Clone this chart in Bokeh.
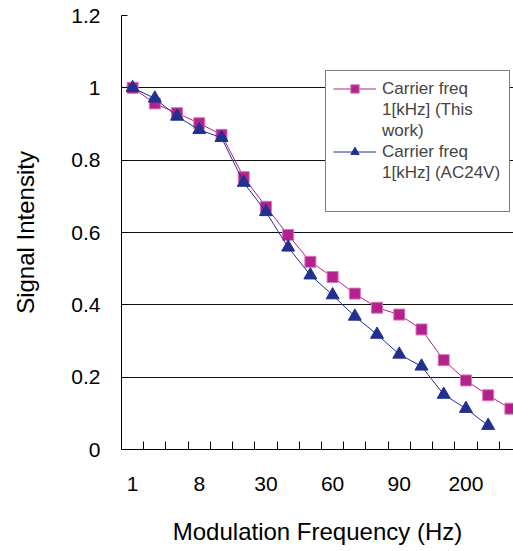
from bokeh.plotting import figure
from bokeh.models import FixedTicker, Legend, LegendItem, Range1d
from bokeh.embed import file_html
from bokeh.resources import INLINE

# ---- data ----
categories = [1, 2, 4, 8, 10, 20, 30, 40, 50, 60, 70, 80, 90, 100, 150, 200, 250, 300]
label_every = 3
this_work = [1.0, 0.957, 0.930, 0.902, 0.870, 0.753, 0.671, 0.593, 0.519, 0.477,
             0.431, 0.392, 0.373, 0.332, 0.247, 0.191, 0.150, 0.113]
ac24v = [1.0, 0.971, 0.921, 0.884, 0.862, 0.738, 0.657, 0.559, 0.482, 0.427,
         0.368, 0.318, 0.263, 0.230, 0.152, 0.113, 0.066]
y_ticks = [0, 0.2, 0.4, 0.6, 0.8, 1.0, 1.2]
y_tick_labels = ["0", "0.2", "0.4", "0.6", "0.8", "1", "1.2"]
series_a_lines = ["Carrier freq", "1[kHz] (This", "work)"]
series_b_lines = ["Carrier freq", "1[kHz] (AC24V)"]

MAGENTA = "#B4208C"
BLUE = "#22308F"
FONT = "Liberation Sans"

xs_a = list(range(len(this_work)))
xs_b = list(range(len(ac24v)))

p = figure(width=513, height=551, output_backend="svg", toolbar_location=None,
           x_range=Range1d(-0.5, 17.14), y_range=Range1d(0, 1.2),
           min_border_left=121, min_border_right=0, min_border_top=15, min_border_bottom=102)
p.outline_line_color = None
p.background_fill_color = "white"
p.border_fill_color = "white"

# grid
p.xgrid.visible = False
p.ygrid.ticker = FixedTicker(ticks=y_ticks[1:])
p.ygrid.grid_line_color = "#111111"
p.ygrid.grid_line_width = 1

# x axis
major = list(range(0, len(categories), label_every))
minor = [i + 0.5 for i in range(len(categories) - 1)]
p.xaxis.ticker = FixedTicker(ticks=major, minor_ticks=minor)
p.xaxis.major_label_overrides = {i: str(categories[i]) for i in major}
p.xaxis.minor_tick_in = 8
p.xaxis.minor_tick_out = 0
p.xaxis.minor_tick_line_color = "black"
p.xaxis.major_tick_out = 0
p.xaxis.major_tick_in = 0
p.xaxis.major_label_standoff = 27
p.xaxis.axis_label = "Modulation Frequency (Hz)"
p.xaxis.axis_label_standoff = 24

# y axis
p.yaxis.ticker = FixedTicker(ticks=y_ticks)
p.yaxis.major_label_overrides = {t: l for t, l in zip(y_ticks, y_tick_labels)}
p.yaxis.minor_tick_line_color = None
p.yaxis.major_tick_in = 6
p.yaxis.major_tick_out = 0
p.yaxis.major_label_standoff = 21
p.yaxis.axis_label = "Signal Intensity"
p.yaxis.axis_label_standoff = 29

for ax in (p.xaxis, p.yaxis):
    ax.axis_line_color = "black"
    ax.major_label_text_font = FONT
    ax.major_label_text_font_size = "21px"
    ax.major_label_text_color = "black"
    ax.axis_label_text_font = FONT
    ax.axis_label_text_font_size = "24px"
    ax.axis_label_text_font_style = "normal"
    ax.axis_label_text_color = "black"
p.xaxis.major_tick_line_color = None
p.yaxis.major_tick_line_color = "black"

# series
la = p.line(xs_a, this_work, line_color=MAGENTA, line_width=1)
sa = p.scatter(xs_a, this_work, marker="square", size=11, fill_color=MAGENTA,
               line_color="#D577B8", line_width=1)
lb = p.line(xs_b, ac24v, line_color=BLUE, line_width=1)
sb = p.scatter(xs_b, ac24v, marker="triangle", size=13, fill_color=BLUE,
               line_color=BLUE, line_width=1)
blank = p.line([], [], line_alpha=0)

items = [LegendItem(label=series_a_lines[0], renderers=[la, sa])]
items += [LegendItem(label=t, renderers=[blank]) for t in series_a_lines[1:]]
items += [LegendItem(label=series_b_lines[0], renderers=[lb, sb])]
items += [LegendItem(label=t, renderers=[blank]) for t in series_b_lines[1:]]
items += [LegendItem(label=" ", renderers=[blank])]

legend = Legend(items=items, location=(204, 237))
legend.border_line_color = "black"
legend.border_line_width = 1
legend.background_fill_color = "white"
legend.background_fill_alpha = 1
legend.label_text_font = FONT
legend.label_text_font_size = "17px"
legend.label_text_baseline = "middle"
legend.glyph_width = 43
legend.glyph_height = 21
legend.label_height = 21
legend.label_standoff = 6
legend.label_width = 120
legend.padding = 7
legend.spacing = 0
legend.margin = 0
p.add_layout(legend)

open("out.html", "w").write(file_html(p, INLINE))
